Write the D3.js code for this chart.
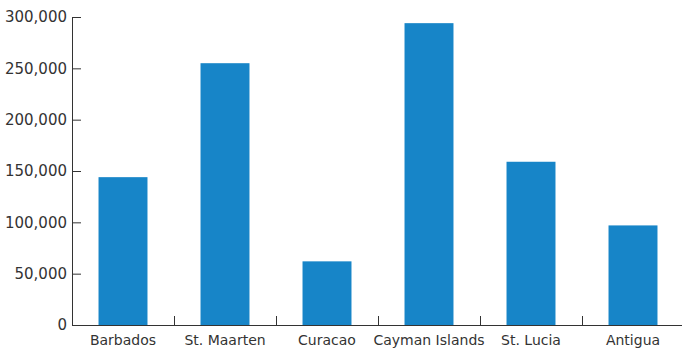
<!DOCTYPE html>
<html>
<head>
<meta charset="utf-8">
<script src="https://cdn.jsdelivr.net/npm/d3@7/dist/d3.min.js"></script>
<style>
  html, body { margin: 0; padding: 0; background: #fff; }
  svg { display: block; }
  .axis text { font-family: "DejaVu Sans", sans-serif; fill: #333; }
  .axis path, .axis line { stroke: #333; }
</style>
</head>
<body>
<svg id="chart" width="682" height="350"></svg>
<script>
const categories = ["Barbados", "St. Maarten", "Curacao", "Cayman Islands", "St. Lucia", "Antigua"];
const values = [144000, 255000, 62000, 294000, 159000, 97000];
const yTicks = [0, 50000, 100000, 150000, 200000, 250000, 300000];

const svg = d3.select("#chart");
const plotLeft = 72, plotRight = 684, plotTop = 17, plotBottom = 325;

const x = d3.scaleBand()
  .domain(categories)
  .range([plotLeft, plotRight])
  .paddingInner(0.52)
  .paddingOuter(0.26);

const y = d3.scaleLinear()
  .domain([0, 300000])
  .range([plotBottom, plotTop]);

// bars
svg.append("g")
  .selectAll("rect")
  .data(categories)
  .join("rect")
  .attr("x", d => x(d))
  .attr("width", x.bandwidth())
  .attr("y", (d, i) => y(values[i]))
  .attr("height", (d, i) => y(0) - y(values[i]))
  .attr("fill", "#1785c8");

// y axis: ticks point inward, labels sit left of the line
const yAxis = svg.append("g")
  .attr("class", "axis")
  .attr("transform", `translate(${plotLeft},0)`)
  .call(d3.axisLeft(y)
    .tickValues(yTicks)
    .tickFormat(d3.format(","))
    .tickSizeInner(-9)
    .tickSizeOuter(0)
    .tickPadding(5));
yAxis.selectAll("text").style("font-size", "15px");

// x axis: category labels under each bar
const xAxis = svg.append("g")
  .attr("class", "axis")
  .attr("transform", `translate(0,${plotBottom})`)
  .call(d3.axisBottom(x)
    .tickSizeInner(0)
    .tickSizeOuter(0)
    .tickPadding(10));
xAxis.selectAll("text").style("font-size", "14px");

// separator ticks between categories
const step = x.step();
xAxis.selectAll("line.sep")
  .data(categories.slice(1))
  .join("line")
  .attr("class", "sep")
  .attr("x1", d => Math.round(x(d) - step * x.paddingInner() / 2) + 0.5)
  .attr("x2", d => Math.round(x(d) - step * x.paddingInner() / 2) + 0.5)
  .attr("y1", 0)
  .attr("y2", -9);
</script>
</body>
</html>
